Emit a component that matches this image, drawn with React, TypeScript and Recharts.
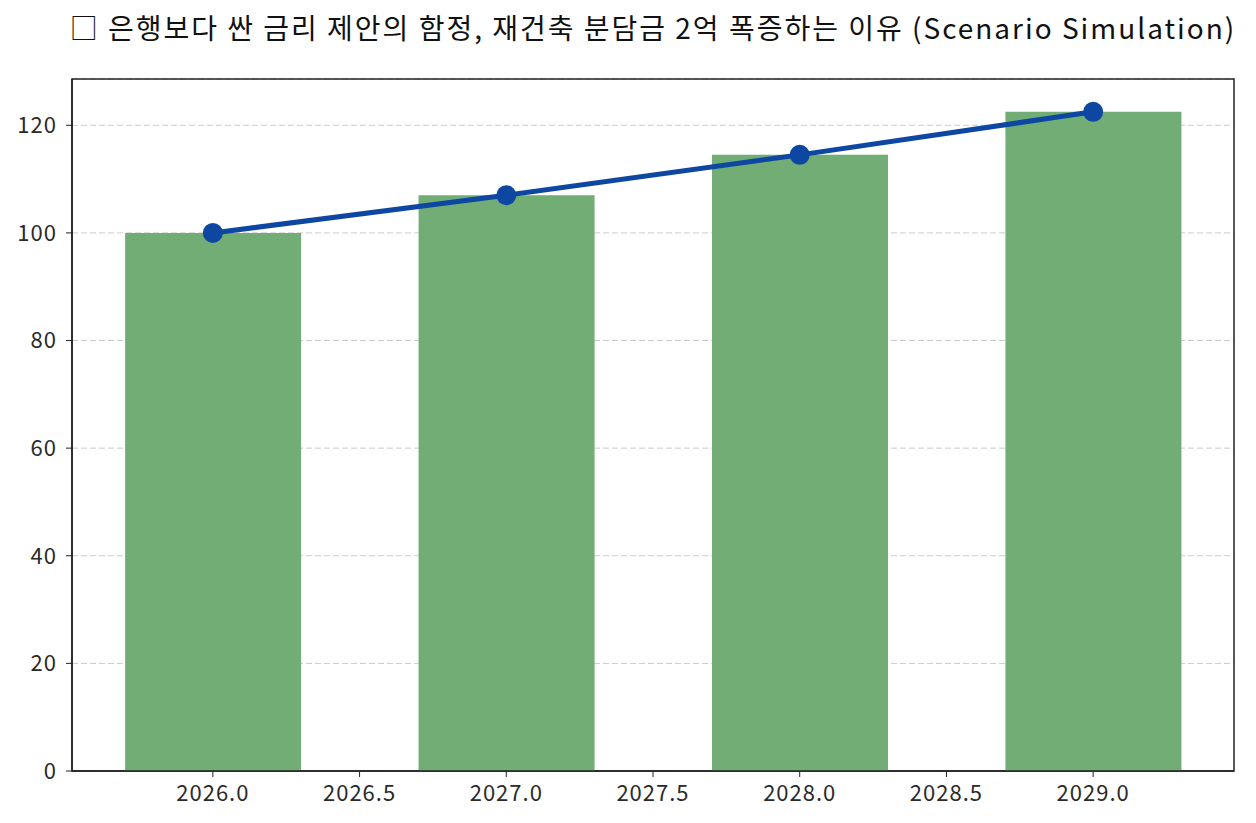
import React from "react";
import {
    Bar,
    ComposedChart,
    Line,
    XAxis,
    YAxis,
    CartesianGrid,
    ReferenceArea,
} from "recharts";

// scenario years and index values (base 2026 = 100)
const years = [2026, 2027, 2028, 2029];
const barValues = [100, 107, 114.5, 122.5];
const lineValues = [100, 107, 114.5, 122.5];

const xTicks = [2026, 2026.5, 2027, 2027.5, 2028, 2028.5, 2029];
const yTicks = [0, 20, 40, 60, 80, 100, 120];
const xDomain = [2025.52, 2029.48];
const yDomain = [0, 128.6];

const title = "□ 은행보다 싼 금리 제안의 함정, 재건축 분담금 2억 폭증하는 이유 (Scenario Simulation)";

const FONT = "'Noto Sans CJK KR', 'Noto Sans', sans-serif";

export default function App() {
    const data = years.map((year, i) => ({
        year,
        bar: barValues[i],
        line: lineValues[i],
    }));

    const tickStyle = { fill: "#2a2a2a", fontSize: 22, fontFamily: FONT, letterSpacing: 1 };

    return (
        <div style={{ position: "absolute", left: 0, top: 0, width: 1256, height: 823, background: "#fff" }}>
            <div
                style={{
                    position: "absolute",
                    left: 0,
                    width: 1306,
                    top: 7,
                    textAlign: "center",
                    fontFamily: FONT,
                    fontSize: 28,
                    letterSpacing: 2,
                    color: "#111",
                    whiteSpace: "nowrap",
                }}
            >
                {title}
            </div>
            <ComposedChart
                width={1256}
                height={823}
                data={data}
                margin={{ top: 79, right: 22, bottom: 12, left: 2 }}
            >
                <CartesianGrid
                    vertical={false}
                    stroke="#cbcbcb"
                    strokeDasharray="6 3"
                    yAxisId="y"
                    xAxisId="x"
                />
                <XAxis
                    xAxisId="x"
                    dataKey="year"
                    type="number"
                    domain={xDomain}
                    ticks={xTicks}
                    allowDataOverflow
                    height={40}
                    tick={tickStyle}
                    tickFormatter={(v) => Number(v).toFixed(1)}
                    tickSize={6}
                    tickMargin={8}
                    stroke="#222"
                    axisLine={{ stroke: "#222", strokeWidth: 1.5 }}
                />
                <YAxis
                    yAxisId="y"
                    type="number"
                    domain={yDomain}
                    ticks={yTicks}
                    allowDataOverflow
                    width={70}
                    tick={tickStyle}
                    tickSize={6}
                    tickMargin={9}
                    stroke="#222"
                    axisLine={{ stroke: "#222", strokeWidth: 1.5 }}
                />
                <Bar
                    xAxisId="x"
                    yAxisId="y"
                    dataKey="bar"
                    fill="#72ad76"
                    barSize={176}
                    isAnimationActive={false}
                />
                <Line
                    xAxisId="x"
                    yAxisId="y"
                    dataKey="line"
                    stroke="#0d47a1"
                    strokeWidth={5}
                    dot={{ r: 10, fill: "#0d47a1", stroke: "#0d47a1", strokeWidth: 0 }}
                    isAnimationActive={false}
                />
                {/* full frame around the plot */}
                <ReferenceArea
                    xAxisId="x"
                    yAxisId="y"
                    x1={xDomain[0]}
                    x2={xDomain[1]}
                    y1={yDomain[0]}
                    y2={yDomain[1]}
                    fill="none"
                    fillOpacity={0}
                    stroke="#222"
                    strokeWidth={1.5}
                    ifOverflow="visible"
                />
            </ComposedChart>
        </div>
    );
}
